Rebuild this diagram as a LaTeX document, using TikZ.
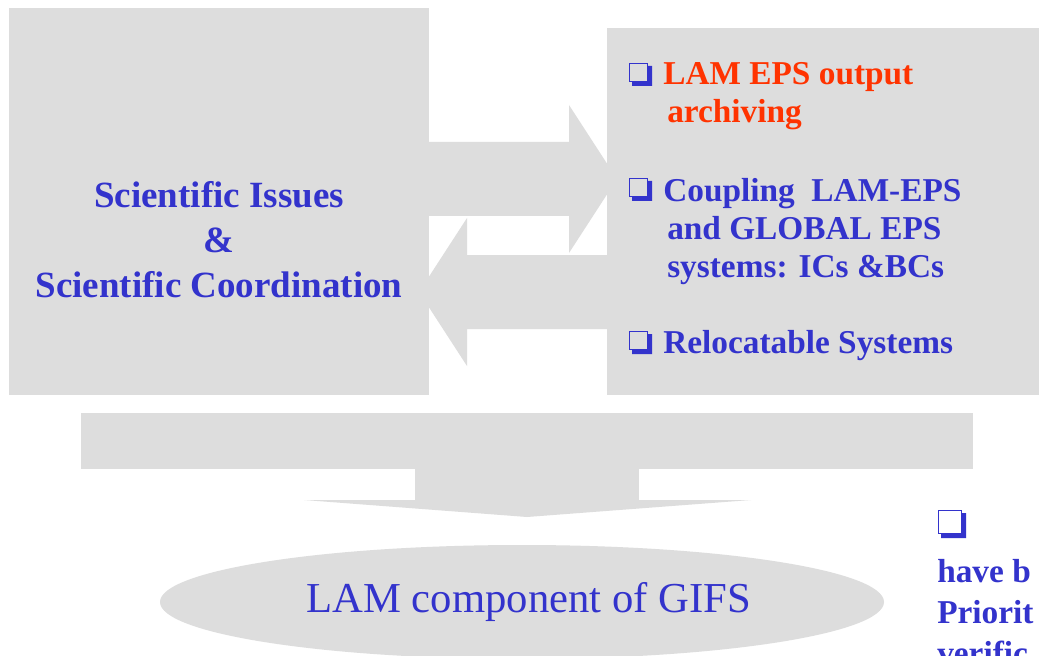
\documentclass[tikz,border=0pt]{standalone}
\usepackage{fontspec}
\setmainfont{Liberation Serif}
\usetikzlibrary{shapes.geometric}
\definecolor{boxgray}{HTML}{DDDDDD}
\definecolor{ink}{HTML}{3333CC}
\definecolor{hot}{HTML}{FF3300}

\tikzset{
  panel/.style={fill=boxgray, draw=none, inner sep=0pt},
  item/.style={anchor=base west, align=left, inner sep=0pt, text=ink,
               font=\fontsize{25}{28.5}\selectfont\bfseries},
  pics/qbox/.style={code={
    \draw[ink, line width=0.9pt] (0.6,0.6) rectangle (#1-4.6,#1-4.6);
    \fill[ink] (#1-4,3) -- (#1,3) -- (#1,#1) -- (3,#1) -- (3,#1-4) -- (#1-4,#1-4) -- cycle;}}
}

\begin{document}
\begin{tikzpicture}[x=0.75pt, y=-0.75pt]
  \clip (0,0) rectangle (1039,656);
  \fill[white] (0,0) rectangle (1039,656);
  % the two panels
  \node[panel, minimum width=315pt, minimum height=290.25pt] (sci) at (219,201.5) {};
  \node[panel, minimum width=330pt, minimum height=275.25pt] (topics) at (827,211.5) {};
  % exchange arrows between the panels
  \fill[boxgray] (429,142) -- (569,142) -- (569,105) -- (617,179)
        -- (569,253) -- (569,216) -- (429,216) -- cycle;
  \fill[boxgray] (610,255) -- (467,255) -- (467,218) -- (419,292)
        -- (467,366) -- (467,329) -- (610,329) -- cycle;
  % merging bar and down arrow
  \fill[boxgray] (81,413) rectangle (973,469);
  \fill[boxgray] (415,469) rectangle (639,500);
  \fill[boxgray] (304,500) -- (751,500) -- (527,517) -- cycle;
  \node[ellipse, fill=boxgray, minimum width=543pt, minimum height=85.5pt, inner sep=0pt,
        text=ink, font=\fontsize{32}{36}\selectfont] (gifs) at (522,602)
        {\hspace*{10pt}LAM component of GIFS};
  % left panel text (base = last line)
  \node[anchor=base, align=center, inner sep=0pt, text=ink,
        font=\fontsize{27.75}{33.75}\selectfont\bfseries] (scitxt) at (219,297)
        {Scientific Issues\\\&\\Scientific Coordination};
  % right panel items
  \pic at (629,63) {qbox=23};
  \node[item, text=hot] (arch) at (663,123) {LAM EPS output\\\hspace*{3pt}archiving};
  \pic at (629,178) {qbox=23};
  \node[item] (coup) at (663,277) {Coupling\ \ LAM-EPS\\\hspace*{3pt}and GLOBAL EPS\\\hspace*{3pt}systems: ICs \&BCs};
  \pic at (629,331) {qbox=23};
  \node[item] (reloc) at (663,353) {Relocatable Systems};
  % note cut at the right edge
  \pic at (938,510) {qbox=28};
  \node[item, font=\fontsize{25}{30.75}\selectfont\bfseries] (prio) at (937,664) {have b\\Priorit\\verific};
\end{tikzpicture}
\end{document}
